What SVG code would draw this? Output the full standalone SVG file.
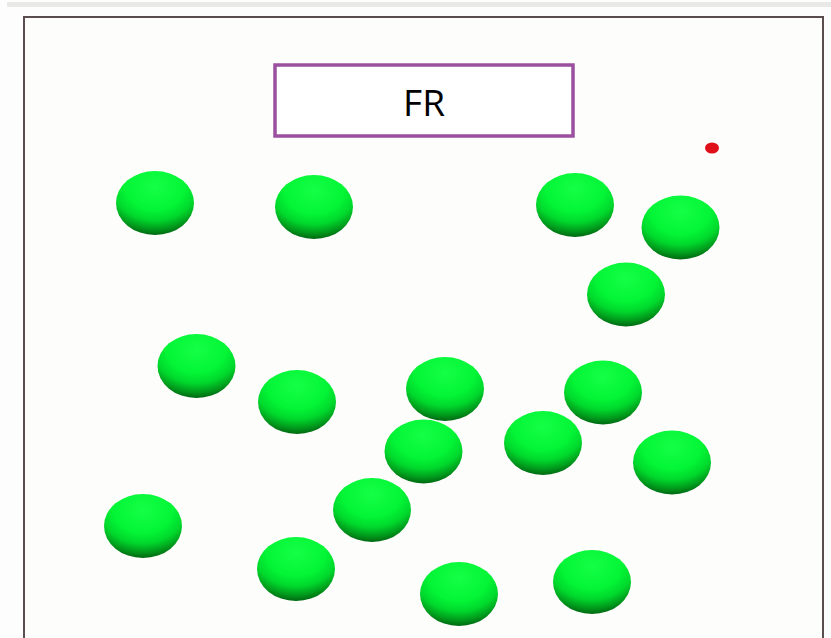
<svg xmlns="http://www.w3.org/2000/svg" width="831" height="638" viewBox="0 0 831 638">
<defs>
<radialGradient id="ballGrad" cx="0.5" cy="0.2" r="0.85" fx="0.5" fy="0.25">
<stop offset="0" stop-color="#14ff46"/>
<stop offset="0.45" stop-color="#03f536"/>
<stop offset="0.65" stop-color="#00d82c"/>
<stop offset="0.82" stop-color="#009a1c"/>
<stop offset="1" stop-color="#004d0c"/>
</radialGradient>
<style>
.ball{fill:url(#ballGrad);}
.frame{fill:#fdfdfc;stroke:#5b4d4d;stroke-width:2;}
.label{fill:#ffffff;stroke:#9b4f9f;stroke-width:3.5;}
.txt{font-family:"Open Sans","Noto Sans","Liberation Sans",sans-serif;font-size:37px;fill:#000;}
</style>
</defs>
<rect x="0" y="0" width="831" height="638" fill="#fdfdfd"/>
<rect x="7" y="2" width="824" height="5" fill="#e9e9e7"/>
<rect class="frame" x="24" y="17" width="799" height="630"/>
<g id="title">
<rect class="label" x="275" y="65" width="298" height="71"/>
<text class="txt" x="424" y="116" text-anchor="middle">FR</text>
</g>
<g id="red-dot"><ellipse cx="712" cy="148" rx="7" ry="5.5" fill="#e0101a"/></g>
<g id="balls">
<g id="b1"><ellipse class="ball" cx="155" cy="203" rx="39" ry="32"/></g>
<g id="b2"><ellipse class="ball" cx="314" cy="207" rx="39" ry="32"/></g>
<g id="b3"><ellipse class="ball" cx="575" cy="205" rx="39" ry="32"/></g>
<g id="b4"><ellipse class="ball" cx="680.5" cy="227.5" rx="39" ry="32"/></g>
<g id="b5"><ellipse class="ball" cx="626" cy="294.5" rx="39" ry="32"/></g>
<g id="b6"><ellipse class="ball" cx="196.5" cy="366" rx="39" ry="32"/></g>
<g id="b7"><ellipse class="ball" cx="297" cy="402" rx="39" ry="32"/></g>
<g id="b8"><ellipse class="ball" cx="445" cy="389" rx="39" ry="32"/></g>
<g id="b9"><ellipse class="ball" cx="603" cy="392.5" rx="39" ry="32"/></g>
<g id="b10"><ellipse class="ball" cx="423.5" cy="451.5" rx="39" ry="32"/></g>
<g id="b11"><ellipse class="ball" cx="543" cy="443" rx="39" ry="32"/></g>
<g id="b12"><ellipse class="ball" cx="672" cy="462.5" rx="39" ry="32"/></g>
<g id="b13"><ellipse class="ball" cx="143" cy="526" rx="39" ry="32"/></g>
<g id="b14"><ellipse class="ball" cx="372" cy="510" rx="39" ry="32"/></g>
<g id="b15"><ellipse class="ball" cx="296" cy="569" rx="39" ry="32"/></g>
<g id="b16"><ellipse class="ball" cx="459" cy="594" rx="39" ry="32"/></g>
<g id="b17"><ellipse class="ball" cx="592" cy="582" rx="39" ry="32"/></g>
</g>
</svg>
